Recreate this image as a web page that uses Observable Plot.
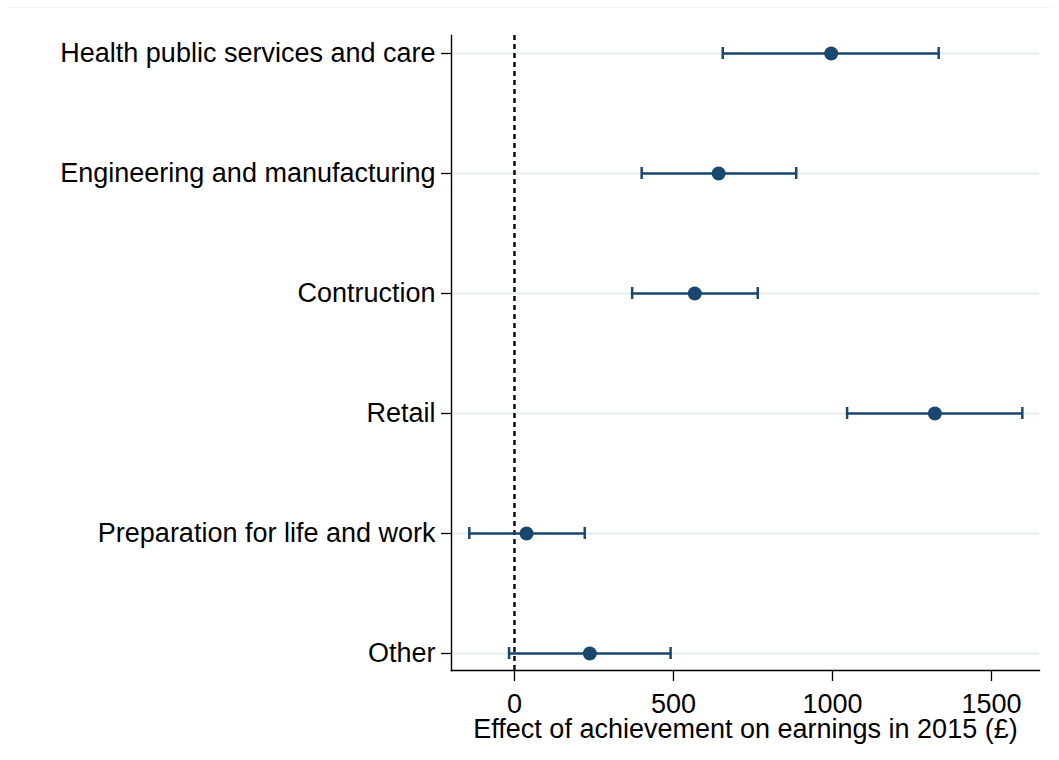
<!DOCTYPE html>
<html>
<head>
<meta charset="utf-8">
<script src="https://cdn.jsdelivr.net/npm/d3@7"></script>
<script src="https://cdn.jsdelivr.net/npm/@observablehq/plot@0.6"></script>
<style>
  body { margin: 0; background: #fff; }
  #chart { position: relative; width: 1059px; height: 760px; }
  #chart .edge { position: absolute; left: 10px; top: 7px; width: 1040px; height: 1px; background: #f2f2f2; }
</style>
</head>
<body>
<div id="chart"><div class="edge"></div></div>
<script>
// Sector-subject areas, top to bottom
const sectors = [
  "Health public services and care",
  "Engineering and manufacturing",
  "Contruction",
  "Retail",
  "Preparation for life and work",
  "Other"
];
// Point estimates and 95% confidence bounds (£)
const estimates = [996, 642, 567, 1322, 38, 237];
const lower = [655, 400, 370, 1046, -142, -17];
const upper = [1334, 886, 765, 1597, 221, 491];
const xTicks = [0, 500, 1000, 1500];
const axisTitle = "Effect of achievement on earnings in 2015 (£)";

const rows = sectors.map((sector, i) => ({
  sector, est: estimates[i], lo: lower[i], hi: upper[i]
}));

const navy = "#1a476f";
const font = '"Liberation Sans", Arial, Helvetica, sans-serif';

const chart = Plot.plot({
  width: 1059,
  height: 760,
  marginLeft: 451,
  marginRight: 20,
  marginTop: 35,
  marginBottom: 90,
  style: { fontFamily: font, fontSize: "27px", background: "white", color: "black" },
  x: { domain: [-198, 1651] },
  // narrow bands: the band width sets the height of the interval end caps
  y: { type: "band", domain: sectors, paddingInner: 0.9, paddingOuter: 0.087 },
  marks: [
    Plot.gridY({ stroke: "#e8eff1", strokeOpacity: 1, strokeWidth: 2.5 }),
    Plot.ruleX([0], { stroke: "black", strokeWidth: 2.4, strokeDasharray: "5,4" }),
    Plot.frame({ anchor: "left", stroke: "black", strokeWidth: 1.4 }),
    Plot.frame({ anchor: "bottom", stroke: "black", strokeWidth: 1.4 }),
    Plot.axisX({ ticks: xTicks, tickFormat: d => String(d), tickSize: 11, tickPadding: 12, label: null, fontSize: 27, strokeWidth: 1.3 }),
    Plot.axisY({ tickSize: 10, tickPadding: 6, label: null, fontSize: 27, strokeWidth: 1.3 }),
    // confidence interval bars with end caps
    Plot.ruleY(rows, { y: "sector", x1: "lo", x2: "hi", stroke: navy, strokeWidth: 2.5 }),
    Plot.tickX(rows, { x: "lo", y: "sector", stroke: navy, strokeWidth: 2.5 }),
    Plot.tickX(rows, { x: "hi", y: "sector", stroke: navy, strokeWidth: 2.5 }),
    Plot.dot(rows, { x: "est", y: "sector", r: 7, fill: navy, stroke: "none" }),
    Plot.text([axisTitle], { text: d => d, frameAnchor: "bottom", lineAnchor: "top", dy: 48, fontSize: 27, fill: "black" })
  ]
});

document.getElementById("chart").appendChild(chart);
</script>
</body>
</html>
